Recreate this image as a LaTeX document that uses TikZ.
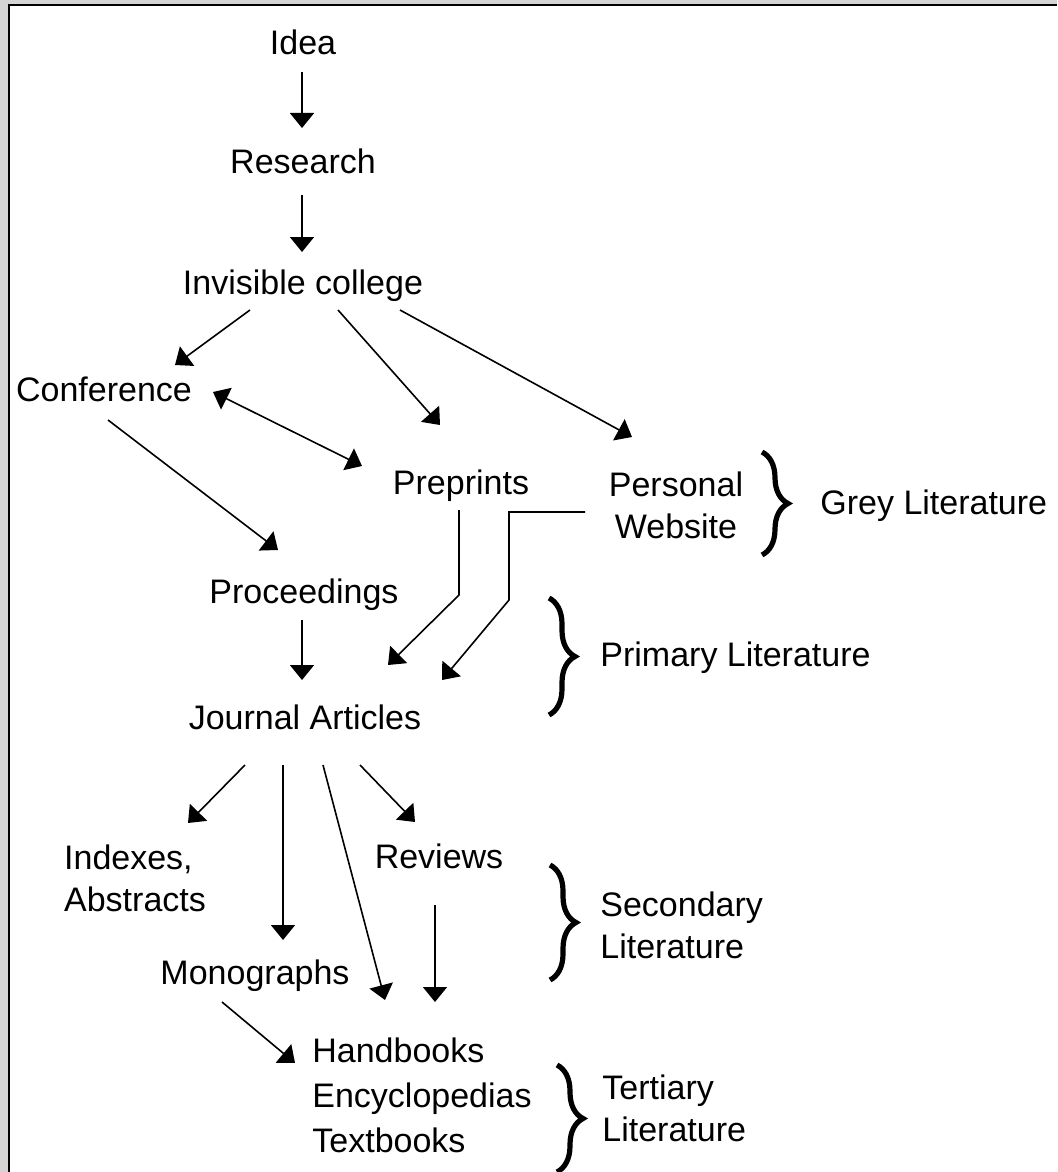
\documentclass[tikz,border=0pt]{standalone}
\usepackage{fontspec}
\setmainfont{Liberation Sans}
\usetikzlibrary{arrows.meta,calc,decorations.pathreplacing}
\definecolor{panelgrey}{RGB}{212,212,212}

\begin{document}
\begin{tikzpicture}[
  x=0.5pt, y=-0.5pt,
  >={Triangle[length=7.5pt,width=12pt]},
  item/.style={inner sep=0pt, font=\fontsize{17}{21}\selectfont,
    text height=12.8pt, text depth=4.2pt},
  stack/.style={inner sep=0pt, font=\fontsize{17}{21}\selectfont,
    align=left},
  conn/.style={line width=0.8pt, ->},
  grp/.style={line width=2.6pt, decorate,
    decoration={brace, amplitude=13pt}}
]
\useasboundingbox (0,0) rectangle (1057,1172);

% Frame
\fill[panelgrey] (0,0) rectangle (1057,1172);
\fill[white] (9,6) rectangle (1057,1172);
\draw[line width=1pt] (8.5,1172) -- (8.5,5) -- (1057,5);

% Top chain
\node[item] (idea) at (303,46) {Idea};
\node[item] (research) at (303,165) {Research};
\node[item] (college) at (303,286) {Invisible college};

% Grey literature
\node[item] (conf) at (104,393) {Conference};
\node[item] (preprints) at (461,486) {Preprints};
\node[stack, align=center] (personal) at (676,505) {Personal\\Website};

% Primary literature
\node[item] (proc) at (304,595) {Proceedings};
\node[item] (journal) at (305,721) {Journal Articles};

% Secondary literature
\node[stack] (indexes) at (135,878) {Indexes,\\Abstracts};
\node[item] (reviews) at (439,860) {Reviews};
\node[item] (monographs) at (255,976) {Monographs};

% Tertiary literature
\node[stack, font=\fontsize{17}{22.5}\selectfont] (handbooks)
  at (422,1095) {Handbooks\\Encyclopedias\\Textbooks};

% Braces and labels
\draw[grp] (762,452) -- (762,555);
\node[item, anchor=west] (greylbl) at (820,506) {Grey Literature};
\draw[grp] (549,598) -- (549,715);
\node[item, anchor=west] (primlbl) at (600,658) {Primary Literature};
\draw[grp] (550,865) -- (550,980);
\node[stack, anchor=west] (seclbl) at (600,925) {Secondary\\Literature};
\draw[grp] (557,1065) -- (557,1172);
\node[stack, anchor=west] (terlbl) at (602,1108) {Tertiary\\Literature};

% Connectors
\draw[conn] ($(idea)+(-1,26)$) -- ($(research)+(-1,-37)$);
\draw[conn] ($(research)+(-1,30)$) -- ($(college)+(-1,-34)$);
\draw[conn] ($(college)+(-53,24)$) -- ($(conf)+(71,-28)$);
\draw[conn] ($(college)+(35,24)$) -- ($(preprints)+(-21,-61)$);
\draw[conn] ($(college)+(97,24)$) -- ($(personal)+(-44,-68)$);
\draw[conn, <->] ($(conf)+(109,-1)$) -- ($(preprints)+(-99,-20)$);
\draw[conn] ($(conf)+(4,27)$) -- ($(proc)+(-26,-45)$);
\draw[conn] ($(preprints)+(-2,24)$) -- ++(0,85)
  -- ($(journal)+(83,-56)$);
\draw[conn] ($(personal)+(-91,7)$) -- ++(-76,0) -- ++(0,88)
  -- ($(journal)+(137,-41)$);
\draw[conn] ($(proc)+(-2,25)$) -- ($(journal)+(-3,-41)$);
\draw[conn] ($(journal)+(-60,44)$) -- ($(indexes)+(53,-55)$);
\draw[conn] ($(journal)+(-22,44)$) -- ($(monographs)+(28,-36)$);
\draw[conn] ($(journal)+(18,44)$) -- ($(handbooks)+(-37,-95)$);
\draw[conn] ($(journal)+(55,44)$) -- ($(reviews)+(-24,-38)$);
\draw[conn] ($(reviews)+(-4,45)$) -- ($(handbooks)+(13,-93)$);
\draw[conn] ($(monographs)+(-33,26)$) -- ($(handbooks)+(-127,-32)$);

\end{tikzpicture}
\end{document}
